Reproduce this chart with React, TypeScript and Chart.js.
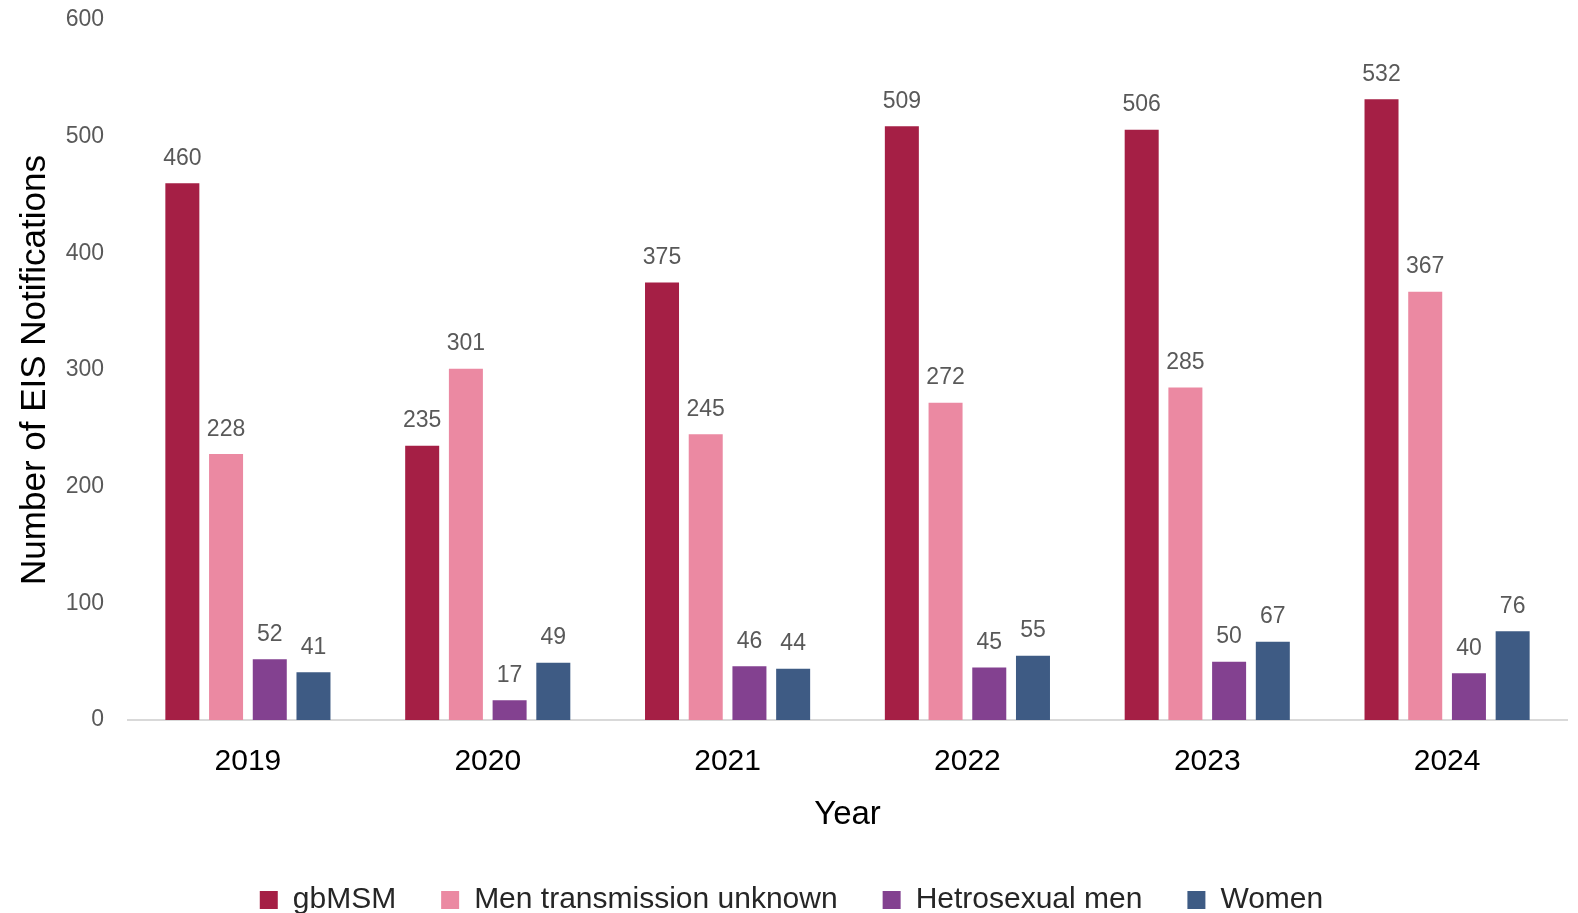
import React, { useEffect, useRef } from 'react';
import { Chart, registerables } from 'chart.js';

Chart.register(...registerables);

const years = ['2019', '2020', '2021', '2022', '2023', '2024'];
const seriesNames = ['gbMSM', 'Men transmission unknown', 'Hetrosexual men', 'Women'];
const gbMSM = [460, 235, 375, 509, 506, 532];
const menUnknown = [228, 301, 245, 272, 285, 367];
const hetMen = [52, 17, 46, 45, 50, 40];
const women = [41, 49, 44, 55, 67, 76];
const seriesColors = ['#A51F45', '#EB89A2', '#834190', '#3E5B84'];
const yMin = 0;
const yMax = 600;
const yStep = 100;

const FONT = '"Liberation Sans", Arial, Helvetica, sans-serif';

const valueLabels = {
  id: 'valueLabels',
  afterDatasetsDraw(chart: any) {
    const ctx = chart.ctx;
    ctx.save();
    ctx.font = `23px ${FONT}`;
    ctx.fillStyle = '#595959';
    ctx.textAlign = 'center';
    ctx.textBaseline = 'alphabetic';
    chart.data.datasets.forEach((ds: any, i: number) => {
      const meta = chart.getDatasetMeta(i);
      meta.data.forEach((bar: any, j: number) => {
        ctx.fillText(String(ds.data[j]), bar.x, bar.y - 18.5);
      });
    });
    ctx.restore();
  },
};

const legendShift = {
  id: 'legendShift',
  afterLayout(chart: any) {
    const l = chart.legend;
    if (l) {
      l.top += 12;
      l.bottom += 12;
      l.left += 8;
      l.right += 8;
    }
  },
};

export default function App() {
  const ref = useRef<HTMLCanvasElement | null>(null);

  useEffect(() => {
    if (!ref.current) return;
    const allSeries = [gbMSM, menUnknown, hetMen, women];
    const chart = new Chart(ref.current, {
      type: 'bar',
      data: {
        labels: years,
        datasets: allSeries.map((d, i) => ({
          label: seriesNames[i],
          data: d,
          backgroundColor: seriesColors[i],
          borderWidth: 0,
          categoryPercentage: 0.729,
          barPercentage: 0.778,
        })),
      },
      options: {
        responsive: false,
        animation: false,
        devicePixelRatio: 1,
        layout: { padding: { left: 0, right: 11, top: 20, bottom: 0 } },
        font: { family: FONT },
        plugins: {
          tooltip: { enabled: false },
          legend: {
            position: 'bottom',
            labels: {
              boxWidth: 18,
              boxHeight: 18,
              padding: 45,
              color: '#262626',
              font: { size: 30, family: FONT },
            },
          },
        },
        scales: {
          x: {
            offset: true,
            grid: { display: false },
            border: { display: true, color: '#D9D9D9', width: 2 },
            ticks: {
              color: '#000000',
              padding: 16,
              font: { size: 30, family: FONT },
            },
            title: {
              display: true,
              text: 'Year',
              color: '#000000',
              padding: { top: 0, bottom: -7 },
              font: { size: 33, family: FONT },
            },
            afterFit(scale: any) {
              scale.height = 108;
            },
          },
          y: {
            min: yMin,
            max: yMax,
            grid: { display: false },
            border: { display: false },
            ticks: {
              stepSize: yStep,
              color: '#595959',
              padding: 16,
              font: { size: 23, family: FONT },
            },
            title: {
              display: true,
              text: 'Number of EIS Notifications',
              color: '#000000',
              padding: { top: 14, bottom: 0 },
              font: { size: 35, family: FONT },
            },
            afterFit(scale: any) {
              scale.width = 128;
              scale.paddingTop = 0;
              scale.paddingBottom = 0;
            },
          },
        },
      },
      plugins: [valueLabels, legendShift],
    });
    return () => chart.destroy();
  }, []);

  return (
    <div style={{ position: 'fixed', left: 0, top: 0, width: 1578, height: 913, background: '#fff' }}>
      <canvas ref={ref} width={1578} height={913} style={{ width: 1578, height: 913, display: 'block' }} />
    </div>
  );
}
